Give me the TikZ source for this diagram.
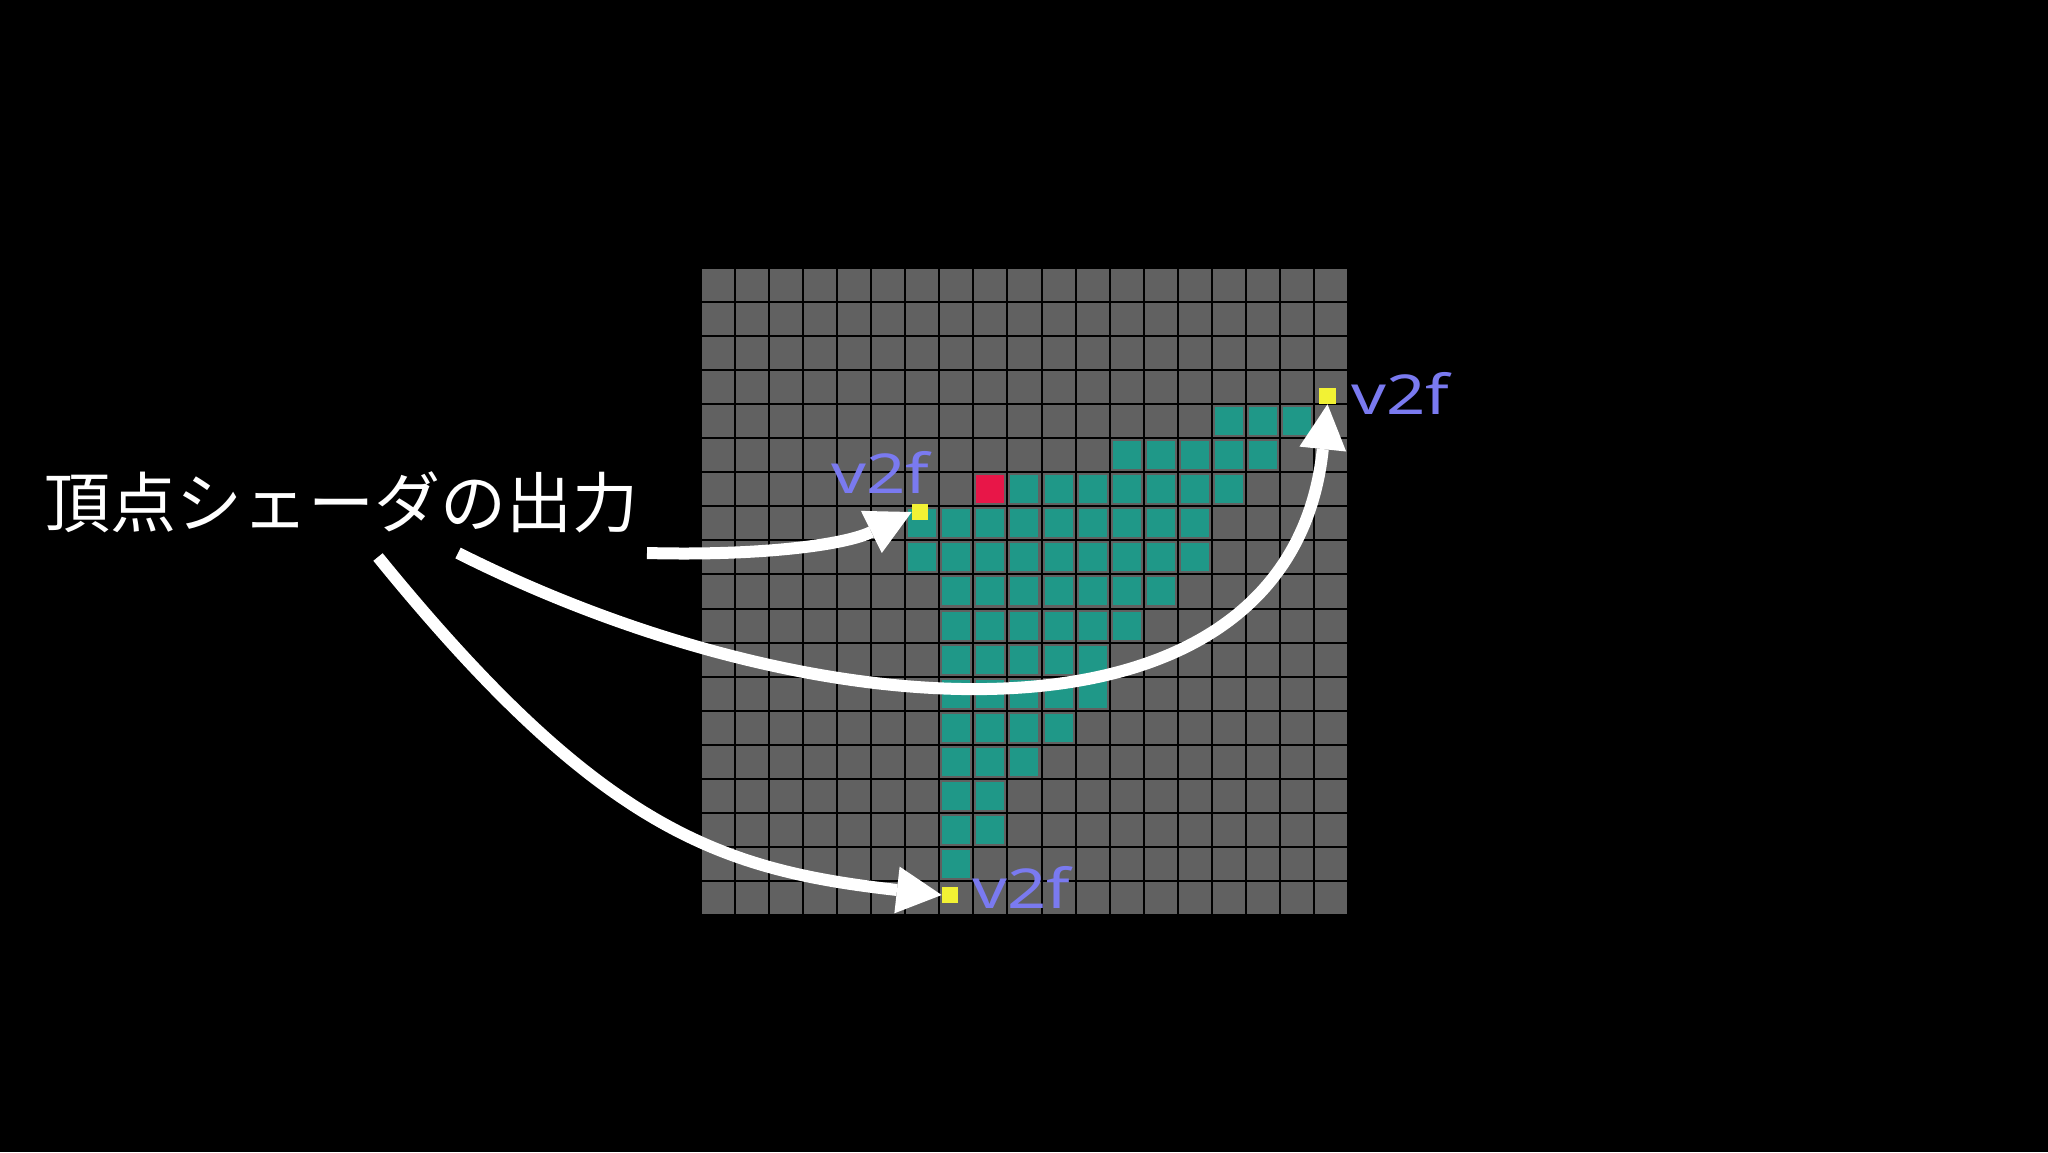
\documentclass[tikz,border=0pt]{standalone}
\usepackage{fontspec}
\newfontfamily\cjkfont{Noto Sans CJK JP}
\newfontfamily\labfont{Noto Sans}
\usetikzlibrary{arrows.meta}
\definecolor{cellgrey}{RGB}{97,97,97}
\definecolor{tealc}{RGB}{31,152,136}
\definecolor{redc}{RGB}{232,22,72}
\definecolor{yel}{RGB}{242,242,52}
\definecolor{labc}{RGB}{122,122,240}
\tikzset{
  vertbox/.style={draw=none, minimum size=8.3pt, inner sep=0pt, outer sep=0pt},
  v2flab/.style={text=labc, inner sep=0pt, anchor=base west, font={\labfont\fontsize{27.5pt}{33pt}\selectfont}},
  arr/.style={draw=white, line width=6pt, -{Triangle[length=22.5pt,width=23.5pt,line width=0pt]}},
  gridline/.style={draw=black, line width=1pt},
  tealcell/.style={fill=tealc},
  redcell/.style={fill=redc},
}
\begin{document}
\begin{tikzpicture}[x=0.5pt,y=-0.5pt]
\fill[black] (0,0) rectangle (2048,1152);
\useasboundingbox (0,0) rectangle (2048,1152);
% grid background
\fill[cellgrey] (701,268) rectangle (1348,915);
\foreach \i in {0,...,19} {
  \draw[gridline] ({701+34.05*\i},268) -- ({701+34.05*\i},915);
  \draw[gridline] (701,{268+34.05*\i}) -- (1348,{268+34.05*\i});
}
% teal cells
\foreach \r/\a/\b in {4/15/17, 5/12/16, 6/9/15, 7/6/14, 8/6/14, 9/7/13, 10/7/12, 11/7/11, 12/7/11, 13/7/10, 14/7/9, 15/7/8, 16/7/8, 17/7/7} {
  \foreach \c in {\a,...,\b} {
    \fill[tealcell] ({701+34.05*\c+3},{268+34.05*\r+3}) rectangle ++(28,28);
  }
}
% red cell
\fill[redcell] ({701+34.05*8+3},{268+34.05*6+3}) rectangle ++(28,28);
% vertices
\node[vertbox] (yA) at (920,512) {};
\node[vertbox] (yB) at (1327.5,396) {};
\node[vertbox] (yC) at (950,895) {};
% title
\node[text=white, inner sep=0pt, font={\cjkfont\fontsize{33pt}{40pt}\selectfont}] (title) at (341,502) {頂点シェーダの出力};
% arrows
\coordinate (s1) at (647,553);
\coordinate (s2) at (458,553);
\coordinate (s3) at (378,557);
\draw[arr] (s1) .. controls (760,556) and (845,545) .. (yA.west);
\draw[arr] (s2) .. controls (830,740) and (1290,760) .. (yB.south);
\draw[arr] (s3) .. controls (600,830) and (720,870) .. (yC.west);
% yellow squares on top
\foreach \v in {yA,yB,yC} {
  \fill[yel] (\v.south west) rectangle (\v.north east);
}
% labels
\node[v2flab] (l1) at (831,493) {\scalebox{1.25}[1]{v2f}};
\node[v2flab] (l2) at (1351,414) {\scalebox{1.25}[1]{v2f}};
\node[v2flab] (l3) at (972,908) {\scalebox{1.25}[1]{v2f}};
\end{tikzpicture}
\end{document}
